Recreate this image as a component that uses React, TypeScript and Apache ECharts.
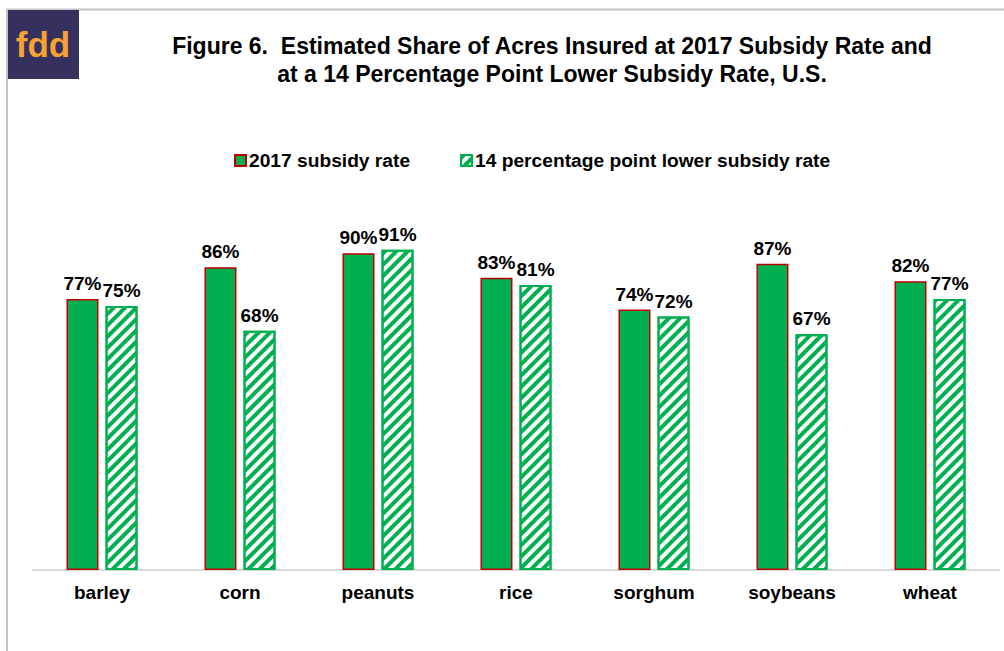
import React, { useEffect, useRef } from "react";
import * as echarts from "echarts";

const categories = ["barley", "corn", "peanuts", "rice", "sorghum", "soybeans", "wheat"];
const rate2017 = [77, 86, 90, 83, 74, 87, 82];
const rateLower = [75, 68, 91, 81, 72, 67, 77];
const seriesNames = ["2017 subsidy rate", "14 percentage point lower subsidy rate"];
const titleLines = [
  "Figure 6.  Estimated Share of Acres Insured at 2017 Subsidy Rate and",
  "at a 14 Percentage Point Lower Subsidy Rate, U.S.",
];

const FONT = "Liberation Sans, Arial, sans-serif";
const GREEN = "#00b050";

export default function App() {
  const ref = useRef<HTMLDivElement>(null);
  useEffect(() => {
    if (!ref.current) return;
    const chart = echarts.init(ref.current, null, { renderer: "svg" });
    const labelStyle = {
      show: true,
      position: "top",
      formatter: "{c}%",
      fontFamily: FONT,
      fontWeight: "bold",
      fontSize: 19,
      color: "#000",
      distance: 6,
    };
    chart.setOption({
      animation: false,
      backgroundColor: "#fff",
      title: {
        text: titleLines.join("\n"),
        left: 547,
        textAlign: "center",
        top: 27,
        textStyle: {
          fontFamily: FONT,
          fontWeight: "bold",
          fontSize: 23,
          lineHeight: 28,
          color: "#000",
        },
      },
      legend: {
        top: 146,
        left: 229,
        itemGap: 50,
        itemWidth: 11,
        itemHeight: 11,
        textStyle: { fontFamily: FONT, fontWeight: "bold", fontSize: 19.2, color: "#000", padding: [0, 0, 0, -2] },
        data: [
          { name: seriesNames[0], icon: "rect" },
          { name: seriesNames[1], icon: "rect" },
        ],
      },
      grid: { left: 33, right: 5, top: 218, bottom: 81, containLabel: false },
      xAxis: {
        type: "category",
        data: categories,
        axisLine: { lineStyle: { color: "#d9d9d9", width: 2 } },
        axisTick: { show: false },
        axisLabel: { fontFamily: FONT, fontWeight: "bold", fontSize: 19, color: "#000", margin: 13 },
      },
      yAxis: {
        type: "value",
        min: 0,
        max: 100,
        show: false,
        splitLine: { show: false },
      },
      series: [
        {
          name: seriesNames[0],
          type: "bar",
          data: rate2017,
          barWidth: 32,
          barGap: "22%",
          itemStyle: { color: GREEN, borderColor: "#c00000", borderWidth: 1.5 },
          label: labelStyle,
        },
        {
          name: seriesNames[1],
          type: "bar",
          data: rateLower,
          barWidth: 32,
          itemStyle: {
            color: "#ffffff",
            borderColor: GREEN,
            borderWidth: 2,
            decal: {
              symbol: "rect",
              symbolSize: 1,
              color: GREEN,
              dashArrayX: [1, 0],
              dashArrayY: [3.5, 4],
              rotation: -Math.PI / 4,
            },
          },
          label: labelStyle,
        },
      ],
      graphic: [
        {
          type: "polyline",
          shape: { points: [[7, 651], [7, 9.5], [1004, 9.5]] },
          style: { stroke: "#c3c3c3", lineWidth: 2, fill: "none" },
          silent: true,
        },
        {
          type: "rect",
          shape: { x: 8, y: 10, width: 71, height: 69 },
          style: { fill: "#35305e" },
          silent: true,
        },
        {
          type: "text",
          x: 43,
          y: 44,
          style: {
            text: "fdd",
            fill: "#f7a233",
            font: "bold 35px " + FONT,
            align: "center",
            verticalAlign: "middle",
          },
          silent: true,
        },
      ],
    });
    return () => chart.dispose();
  }, []);
  return (
    <div
      ref={ref}
      style={{ position: "fixed", left: 0, top: 0, width: 1004, height: 651 }}
    />
  );
}
